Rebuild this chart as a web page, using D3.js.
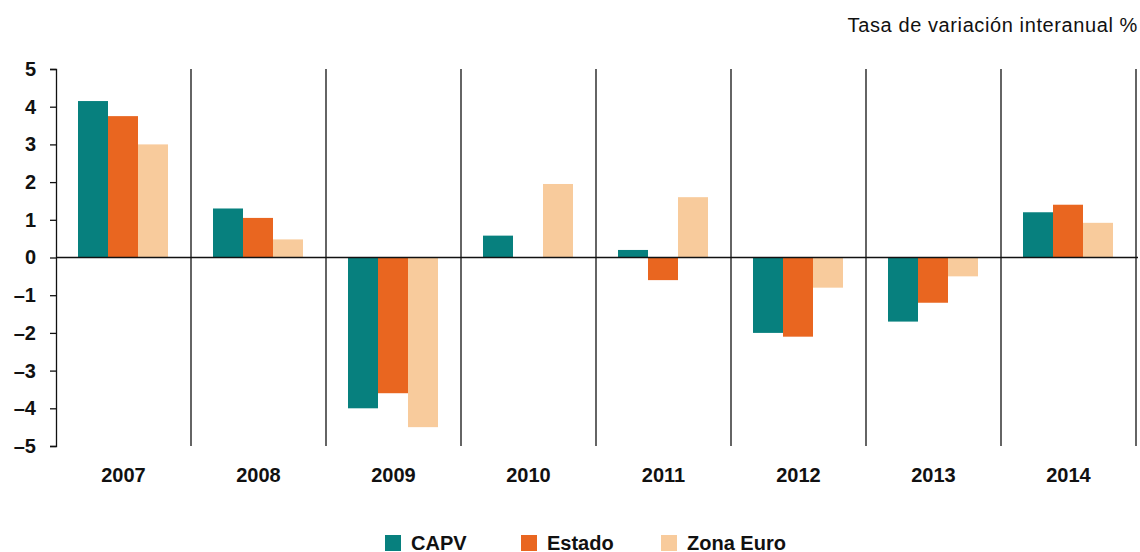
<!DOCTYPE html>
<html lang="es">
  <head>
    <meta charset="UTF-8" />
    <script src="https://cdn.jsdelivr.net/npm/d3@7"></script>
    <style>
      * { margin: 0; padding: 0; }
      body { background: #fff; }
      svg { display: block; font-family: 'Liberation Sans', Arial, sans-serif; }
    </style>
  </head>
  <body>
    <div id="chart"></div>
    <script>
      const years = ['2007', '2008', '2009', '2010', '2011', '2012', '2013', '2014'];
      const seriesNames = ['CAPV', 'Estado', 'Zona Euro'];
      const capv = [4.15, 1.3, -4.0, 0.58, 0.2, -2.0, -1.7, 1.2];
      const estado = [3.75, 1.05, -3.6, 0, -0.6, -2.1, -1.2, 1.4];
      const zonaEuro = [3.0, 0.48, -4.5, 1.95, 1.6, -0.8, -0.5, 0.92];
      const yTicks = [5, 4, 3, 2, 1, 0, -1, -2, -3, -4, -5];
      const colors = ['#07807e', '#e96620', '#f8cb9c'];

      const width = 1140, height = 552;
      const plotLeft = 56, plotRight = 1136, plotTop = 69, plotBottom = 446;

      const svg = d3.select('#chart').append('svg')
        .attr('width', width).attr('height', height);

      const x = d3.scaleBand().domain(years).range([plotLeft, plotRight]).padding(0);
      // group of bars is 90px wide inside a 135px slot
      const xInner = d3.scaleBand().domain(seriesNames)
        .range([22, x.bandwidth() - 23]).padding(0);
      const y = d3.scaleLinear().domain([-5, 5]).range([plotBottom, plotTop]);

      const rows = years.map((yr, i) => ({
        year: yr,
        values: [capv[i], estado[i], zonaEuro[i]]
      }));

      // separators between years
      svg.append('g').selectAll('line')
        .data(years)
        .join('line')
        .attr('x1', (d) => x(d) + x.bandwidth())
        .attr('x2', (d) => x(d) + x.bandwidth())
        .attr('y1', plotTop)
        .attr('y2', plotBottom)
        .attr('stroke', '#111')
        .attr('stroke-width', 1.3);

      // bars
      const groups = svg.append('g').selectAll('g')
        .data(rows)
        .join('g')
        .attr('transform', (d) => `translate(${x(d.year)},0)`);

      groups.selectAll('rect')
        .data((d) => d.values.map((v, k) => ({ name: seriesNames[k], value: v, k })))
        .join('rect')
        .attr('x', (d) => xInner(d.name))
        .attr('width', xInner.bandwidth())
        .attr('y', (d) => y(Math.max(0, d.value)))
        .attr('height', (d) => Math.abs(y(d.value) - y(0)))
        .attr('fill', (d) => colors[d.k]);

      // zero line
      svg.append('line')
        .attr('x1', plotLeft).attr('x2', plotRight + 2)
        .attr('y1', y(0)).attr('y2', y(0))
        .attr('stroke', '#111').attr('stroke-width', 1.5);

      // y axis
      const yAxis = d3.axisLeft(y)
        .tickValues(yTicks)
        .tickSize(6)
        .tickPadding(14)
        .tickFormat((d) => (d < 0 ? '\u2013' + Math.abs(d) : d));
      const yg = svg.append('g')
        .attr('transform', `translate(${plotLeft},0)`)
        .call(yAxis);
      yg.select('.domain').attr('stroke', '#111').attr('stroke-width', 1.3);
      yg.selectAll('.tick line').attr('stroke', '#111').attr('stroke-width', 1.3);
      yg.selectAll('.tick text')
        .attr('font-family', "'Liberation Sans', Arial, sans-serif")
        .attr('font-size', 20)
        .attr('font-weight', 'bold')
        .attr('fill', '#111');

      // x labels
      svg.append('g').selectAll('text')
        .data(years)
        .join('text')
        .attr('x', (d) => x(d) + x.bandwidth() / 2)
        .attr('y', 482)
        .attr('text-anchor', 'middle')
        .attr('font-size', 20)
        .attr('font-weight', 'bold')
        .attr('fill', '#111')
        .text((d) => d);

      // title
      svg.append('text')
        .attr('x', 1138)
        .attr('y', 32)
        .attr('text-anchor', 'end')
        .attr('font-size', 20)
        .attr('letter-spacing', 0.6)
        .attr('fill', '#111')
        .text('Tasa de variación interanual %');

      // legend
      const legendX = [385, 521, 661];
      const legend = svg.append('g').selectAll('g')
        .data(seriesNames)
        .join('g')
        .attr('transform', (d, i) => `translate(${legendX[i]},535)`);
      legend.append('rect')
        .attr('width', 16).attr('height', 16)
        .attr('fill', (d, i) => colors[i]);
      legend.append('text')
        .attr('x', 26).attr('y', 14.5)
        .attr('font-size', 20)
        .attr('font-weight', 'bold')
        .attr('fill', '#111')
        .text((d) => d);
    </script>
  </body>
</html>
